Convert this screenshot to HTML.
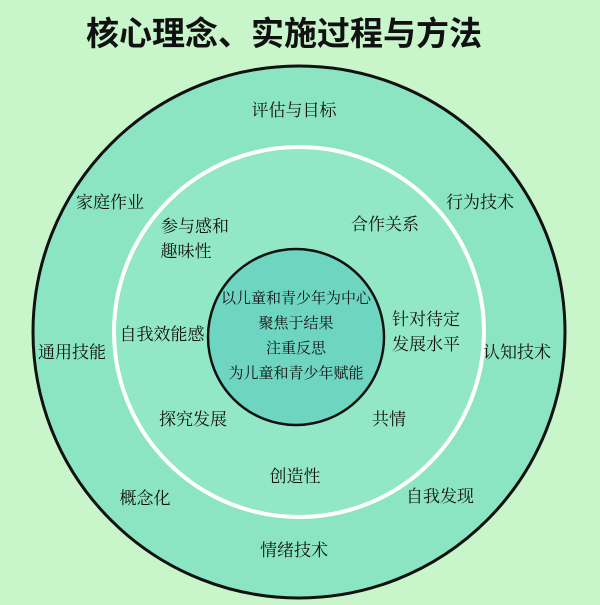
<!DOCTYPE html>
<html><head><meta charset="utf-8"><style>
body{margin:0;width:600px;height:600px;overflow:hidden;background:#c8f5ca;}
svg text{font-family:"Liberation Serif","Noto Serif CJK SC",serif;fill:#111;}
svg text.t{font-family:"Liberation Sans","Noto Sans CJK SC",sans-serif;}
</style></head><body>
<svg width="600" height="600" viewBox="0 0 600 600">
<rect width="600" height="600" fill="#c8f5ca"/>
<text class="t" x="284" y="45" text-anchor="middle" font-size="33" font-weight="bold">核心理念、实施过程与方法</text>
<circle cx="299" cy="332" r="266" fill="#8ce5c2" stroke="#111" stroke-width="3"/>
<circle cx="299" cy="332" r="185" fill="#92e8c6" stroke="#fff" stroke-width="4"/>
<circle cx="296" cy="337" r="88" fill="#6ed6c0" stroke="#111" stroke-width="2.5"/>
<g font-size="15" text-anchor="middle">
<text x="296" y="303">以儿童和青少年为中心</text>
<text x="296" y="328">聚焦于结果</text>
<text x="296" y="353">注重反思</text>
<text x="296" y="378">为儿童和青少年赋能</text>
</g>
<g font-size="17" text-anchor="middle">
<text x="294" y="116">评估与目标</text>
<text x="110" y="208">家庭作业</text>
<text x="480" y="208">行为技术</text>
<text x="72" y="358">通用技能</text>
<text x="517" y="358">认知技术</text>
<text x="145" y="504">概念化</text>
<text x="440" y="502">自我发现</text>
<text x="294" y="556">情绪技术</text>
<text x="195" y="232">参与感和</text>
<text x="186" y="257">趣味性</text>
<text x="385" y="230">合作关系</text>
<text x="162" y="340">自我效能感</text>
<text x="426" y="325">针对待定</text>
<text x="426" y="350">发展水平</text>
<text x="193" y="425">探究发展</text>
<text x="389" y="425">共情</text>
<text x="295" y="482">创造性</text>
</g>
</svg>
</body></html>
